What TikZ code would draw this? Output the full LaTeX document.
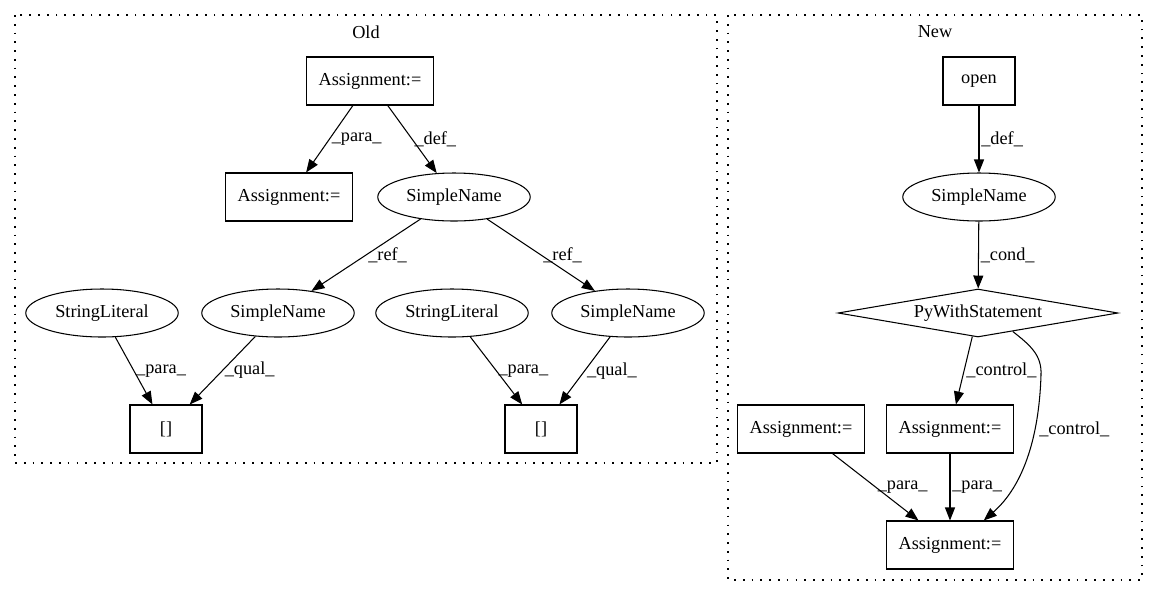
\documentclass[tikz,border=0pt]{standalone}
\usepackage{fontspec}
\setmainfont{Liberation Serif}
\usetikzlibrary{shapes.geometric,arrows.meta}

\begin{document}
\begin{tikzpicture}[x=0.02cm,y=-0.02cm,line width=0.6pt,
	font=\fontsize{10.4}{12}\selectfont,
	box/.style={draw,minimum width=1.44cm,minimum height=0.96cm,inner xsep=0.24cm},
	ell/.style={draw,ellipse,minimum width=3.05cm,minimum height=0.96cm,inner sep=0pt},
	dia/.style={draw,diamond,aspect=5.83,minimum width=5.6cm,minimum height=0.96cm,inner sep=0pt},
	arr/.style={-{Triangle[length=0.26cm,width=0.2cm]}},
	lab/.style={right,inner sep=1pt},
	clu/.style={dash pattern=on 1pt off 4pt}]
\useasboundingbox (0,0) rectangle (1157,596);

\draw[clu] (15,15) rectangle (717,463);
\node (old) at (366,32) {Old};
\draw[clu] (728,15) rectangle (1142,580);
\node (new) at (935,32) {New};

\node[box] (oa1) at (370,81) {Assignment:=};
\node[box] (oa2) at (289,197) {Assignment:=};
\node[ell] (osn) at (454,197) {SimpleName};
\node[ell] (osl1) at (102,313) {StringLiteral};
\node[ell] (osn1) at (278,313) {SimpleName};
\node[ell] (osl2) at (452,313) {StringLiteral};
\node[ell] (osn2) at (628,313) {SimpleName};
\node[box] (oi1) at (166,429) {[]};
\node[box] (oi2) at (541,429) {[]};

\node[box] (nopen) at (979,81) {open};
\node[ell] (nsn) at (979,197) {SimpleName};
\node[dia] (nwith) at (978,313) {PyWithStatement};
\node[box] (na1) at (801,429) {Assignment:=};
\node[box] (na2) at (950,429) {Assignment:=};
\node[box] (na3) at (950,545) {Assignment:=};

\foreach \a/\b/\l in {oa1/oa2/para,oa1/osn/def,osn/osn1/ref,osn/osn2/ref,
	osl1/oi1/para,osn1/oi1/qual,osl2/oi2/para,osn2/oi2/qual,
	nopen/nsn/def,nsn/nwith/cond,nwith/na2/control,na1/na3/para,na2/na3/para}
	\draw[arr] (\a) -- node[lab] {\_\l\_} (\b);

\draw[arr] (nwith.-28) .. controls (1030,345) and (1042,355) .. (1041,375)
	.. controls (1039,440) and (1022,487) .. (na3.36);
\node[lab] (lctrl) at (1037,429) {\_control\_};

\end{tikzpicture}
\end{document}
